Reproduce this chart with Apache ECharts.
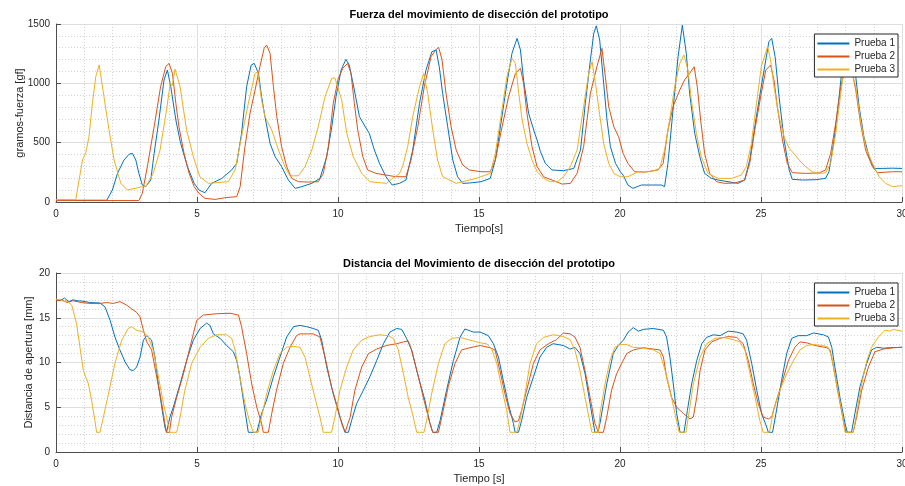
<!DOCTYPE html>
<html>
<head>
<meta charset="utf-8">
<script src="https://cdn.jsdelivr.net/npm/echarts@6/dist/echarts.min.js"></script>
<style>
  html, body { margin: 0; padding: 0; background: #ffffff; }
  #chart { width: 905px; height: 486px; }
</style>
</head>
<body>
<div id="chart"></div>
<script>
// Trial names and texts
const seriesNames = ['Prueba 1', 'Prueba 2', 'Prueba 3'];
const titleFuerza = 'Fuerza del movimiento de disección del prototipo';
const titleDistancia = 'Distancia del Movimiento de disección del prototipo';
const yNameFuerza = 'gramos-fuerza [gf]';
const yNameDistancia = 'Distancia de apertura [mm]';
const xNameFuerza = 'Tiempo[s]';
const xNameDistancia = 'Tiempo [s]';

// Force over time [s, gf]
const fuerzaP1 = [[0,15],[1.8,15],[2.0,101],[2.18,241],[2.41,354],[2.59,402],[2.71,410],[2.83,354],[2.94,241],[3.06,143],[3.18,129],[3.36,185],[3.48,410],[3.65,691],[3.83,1028],[3.95,1112],[4.07,972],[4.25,691],[4.42,494],[4.66,298],[4.9,157],[5.07,101],[5.28,78],[5.52,157],[5.88,199],[6.23,270],[6.41,326],[6.58,578],[6.76,972],[6.92,1154],[7.03,1168],[7.18,1084],[7.29,888],[7.41,719],[7.59,494],[7.77,382],[8.0,298],[8.24,185],[8.48,115],[8.71,129],[9.07,157],[9.36,199],[9.6,382],[9.78,635],[9.93,888],[10.11,1112],[10.28,1202],[10.4,1154],[10.58,944],[10.76,719],[10.93,649],[11.11,578],[11.29,438],[11.47,326],[11.7,213],[11.92,143],[12.18,157],[12.41,185],[12.65,438],[12.89,831],[13.12,1112],[13.33,1267],[13.48,1281],[13.59,1140],[13.71,916],[13.89,635],[14.07,354],[14.24,213],[14.42,157],[14.66,160],[15.07,171],[15.4,199],[15.58,354],[15.76,635],[15.99,1000],[16.17,1253],[16.35,1379],[16.47,1281],[16.58,1028],[16.76,747],[16.94,607],[17.06,522],[17.18,424],[17.35,326],[17.59,270],[18.0,264],[18.36,283],[18.6,438],[18.77,831],[18.95,1197],[19.07,1421],[19.16,1485],[19.28,1365],[19.42,1000],[19.54,691],[19.66,466],[19.84,326],[20.01,255],[20.11,227],[20.28,143],[20.46,115],[20.76,143],[21.11,143],[21.47,143],[21.58,129],[21.7,326],[21.88,775],[22.06,1225],[22.21,1490],[22.35,1253],[22.47,916],[22.65,578],[22.83,382],[23.0,241],[23.24,199],[23.48,185],[23.83,171],[24.19,157],[24.42,185],[24.6,354],[24.78,635],[24.95,888],[25.11,1112],[25.28,1351],[25.38,1379],[25.5,1225],[25.64,888],[25.82,522],[26.0,270],[26.11,191],[26.47,185],[26.94,188],[27.29,199],[27.41,255],[27.59,522],[27.77,888],[27.88,1140],[28.06,1380],[28.2,1300],[28.36,1056],[28.48,803],[28.65,550],[28.83,382],[29.01,283],[29.3,283],[29.66,285],[30,283]];
const fuerzaP2 = [[0,12],[2.94,12],[3.06,73],[3.24,298],[3.48,635],[3.71,972],[3.89,1140],[4.01,1168],[4.13,1084],[4.25,831],[4.36,635],[4.54,410],[4.72,241],[4.9,129],[5.07,73],[5.28,31],[5.64,22],[5.99,36],[6.41,45],[6.53,129],[6.7,466],[6.88,747],[7.06,944],[7.23,1140],[7.38,1295],[7.47,1323],[7.59,1253],[7.71,972],[7.83,719],[8.0,466],[8.18,298],[8.36,199],[8.6,171],[8.95,168],[9.3,171],[9.48,241],[9.66,466],[9.83,831],[10.01,1042],[10.17,1126],[10.34,1168],[10.46,1084],[10.58,831],[10.7,607],[10.88,382],[11.05,270],[11.35,241],[11.7,227],[12.06,213],[12.41,213],[12.59,354],[12.83,635],[13.06,972],[13.3,1225],[13.48,1285],[13.57,1303],[13.69,1197],[13.83,916],[14.01,635],[14.19,438],[14.42,312],[14.66,270],[15.07,255],[15.4,255],[15.58,354],[15.82,635],[16.05,888],[16.29,1084],[16.47,1126],[16.58,1000],[16.7,747],[16.88,466],[17.06,298],[17.29,213],[17.59,185],[17.95,151],[18.24,157],[18.48,241],[18.71,466],[18.95,916],[19.18,1140],[19.36,1295],[19.48,1056],[19.6,803],[19.78,635],[19.95,550],[20.11,410],[20.28,326],[20.52,255],[20.88,252],[21.35,270],[21.53,326],[21.7,607],[21.88,803],[22.12,944],[22.29,1028],[22.47,1084],[22.63,1140],[22.74,972],[22.86,691],[23.0,410],[23.18,241],[23.42,171],[23.71,157],[24.07,160],[24.42,185],[24.6,326],[24.78,607],[25.01,916],[25.17,1112],[25.34,1154],[25.46,1028],[25.58,803],[25.76,522],[25.93,326],[26.11,247],[26.58,241],[27.06,245],[27.29,270],[27.47,410],[27.65,663],[27.83,972],[28.1,1250],[28.36,944],[28.53,663],[28.71,438],[28.95,298],[29.13,247],[29.66,255],[30,255]];
const fuerzaP3 = [[0,20],[0.7,20],[0.82,185],[0.94,354],[1.05,410],[1.17,550],[1.29,831],[1.41,1056],[1.53,1155],[1.7,888],[1.88,607],[2.06,354],[2.3,157],[2.53,101],[3.0,125],[3.2,135],[3.45,242],[3.69,438],[3.92,775],[4.05,1000],[4.12,980],[4.22,1120],[4.4,972],[4.63,607],[4.87,382],[5.1,213],[5.4,157],[6.11,171],[6.35,270],[6.58,550],[6.82,831],[7.06,1084],[7.15,1098],[7.29,860],[7.41,719],[7.65,607],[7.89,438],[8.12,298],[8.3,219],[8.6,222],[8.83,298],[9.07,438],[9.3,635],[9.54,888],[9.78,1042],[9.89,1045],[10.13,860],[10.31,580],[10.54,382],[10.84,242],[11.13,171],[11.72,157],[11.94,199],[12.18,240],[12.29,298],[12.47,466],[12.65,719],[12.89,972],[13.04,1084],[13.18,916],[13.36,607],[13.53,354],[13.71,213],[13.95,185],[14.19,157],[14.42,171],[14.9,199],[15.4,241],[15.58,410],[15.76,691],[15.99,1056],[16.17,1211],[16.29,1168],[16.41,916],[16.53,691],[16.7,494],[16.88,354],[17.06,255],[17.29,199],[17.53,171],[17.77,171],[18.0,213],[18.24,298],[18.48,438],[18.71,803],[18.89,1084],[19.01,1182],[19.13,1000],[19.24,803],[19.42,494],[19.6,326],[19.78,241],[20.01,213],[20.28,213],[20.64,255],[21.11,255],[21.41,283],[21.58,438],[21.76,691],[21.94,972],[22.12,1168],[22.27,1239],[22.41,1112],[22.53,860],[22.71,578],[22.88,382],[23.12,241],[23.48,199],[23.95,199],[24.3,227],[24.48,298],[24.66,494],[24.84,831],[25.01,1140],[25.23,1309],[25.34,1197],[25.46,972],[25.64,719],[25.82,550],[26.0,452],[26.11,424],[26.35,354],[26.58,298],[26.82,255],[27.06,241],[27.29,245],[27.47,326],[27.65,578],[27.83,916],[27.94,1112],[28.1,1200],[28.36,972],[28.53,691],[28.71,466],[28.95,326],[29.19,213],[29.42,157],[29.66,129],[30,138]];

// Opening distance over time [s, mm]
const distP1 = [[0,17.0],[0.15,16.9],[0.3,17.2],[0.45,16.8],[0.6,17.0],[0.75,16.9],[0.95,16.85],[1.2,16.7],[1.56,16.65],[1.74,16.2],[1.92,14.7],[2.09,12.85],[2.27,11.36],[2.45,10.06],[2.62,9.2],[2.74,9.1],[2.86,9.5],[2.98,10.6],[3.1,12.5],[3.22,13.0],[3.39,12.5],[3.51,10.6],[3.63,7.6],[3.75,5.0],[3.86,2.8],[3.92,2.2],[3.98,2.2],[4.04,3.9],[4.16,5.0],[4.4,7.6],[4.63,10.2],[4.87,12.5],[5.11,13.8],[5.34,14.4],[5.46,14.15],[5.58,13.2],[5.82,12.7],[6.05,11.9],[6.29,11.2],[6.41,10.2],[6.52,8.4],[6.7,4.65],[6.82,2.2],[7.12,2.2],[7.29,4.3],[7.47,5.8],[7.71,8.4],[7.94,10.6],[8.18,12.85],[8.42,14.0],[8.65,14.15],[8.89,14.0],[9.12,13.8],[9.3,13.6],[9.42,12.5],[9.6,9.5],[9.83,6.5],[10.07,3.9],[10.25,2.2],[10.37,2.2],[10.48,3.5],[10.66,5.4],[10.9,6.9],[11.13,8.4],[11.37,10.2],[11.61,12.1],[11.84,13.4],[12.08,13.8],[12.26,13.7],[12.43,12.7],[12.61,11.4],[12.85,8.4],[13.08,5.8],[13.26,3.2],[13.36,2.2],[13.5,2.2],[13.62,3.5],[13.85,6.9],[14.09,10.2],[14.33,12.85],[14.5,13.75],[14.8,13.4],[15.04,13.4],[15.33,13.0],[15.51,12.1],[15.69,10.6],[15.86,8.0],[16.04,5.4],[16.22,3.2],[16.28,2.2],[16.4,2.2],[16.51,3.5],[16.69,6.1],[16.93,8.4],[17.16,10.6],[17.4,11.7],[17.63,12.1],[17.99,11.9],[18.23,11.5],[18.4,11.7],[18.58,11.0],[18.76,8.75],[18.94,5.4],[19.11,2.2],[19.22,2.2],[19.29,3.2],[19.53,7.6],[19.76,11.0],[19.94,11.9],[20.12,12.5],[20.29,13.4],[20.47,13.9],[20.65,13.5],[20.83,13.7],[21.18,13.8],[21.54,13.6],[21.65,12.85],[21.77,10.6],[21.89,7.6],[22.01,4.3],[22.13,2.2],[22.27,2.2],[22.39,4.65],[22.54,7.6],[22.72,10.2],[22.9,12.1],[23.07,12.8],[23.31,13.1],[23.55,13.0],[23.84,13.5],[24.14,13.4],[24.37,13.2],[24.49,12.5],[24.67,9.9],[24.85,6.9],[25.02,4.3],[25.2,2.8],[25.26,2.2],[25.41,2.2],[25.53,4.3],[25.73,8.0],[25.91,11.0],[26.09,12.7],[26.32,13.0],[26.62,13.0],[26.86,13.3],[27.21,13.1],[27.39,12.85],[27.51,11.7],[27.62,9.5],[27.8,6.1],[27.98,3.2],[28.06,2.2],[28.21,2.2],[28.33,4.3],[28.51,7.3],[28.75,9.9],[28.92,11.4],[29.1,11.7],[29.34,11.6],[29.57,11.65],[30,11.7]];
const distP2 = [[0,16.9],[0.2,17.0],[0.4,16.7],[0.6,16.9],[0.9,16.7],[1.2,16.6],[1.56,16.6],[1.8,16.7],[2.03,16.6],[2.27,16.8],[2.51,16.4],[2.68,16.0],[2.86,15.6],[2.98,15.1],[3.1,13.6],[3.22,12.3],[3.39,11.4],[3.57,8.4],[3.75,5.4],[3.86,3.2],[3.92,2.2],[4.02,2.2],[4.1,3.9],[4.28,6.1],[4.52,8.75],[4.75,11.7],[4.99,14.7],[5.22,15.3],[5.7,15.45],[6.17,15.5],[6.47,15.3],[6.58,14.0],[6.76,11.0],[6.94,7.6],[7.12,5.0],[7.29,3.2],[7.35,2.2],[7.53,2.2],[7.65,4.3],[7.82,6.9],[8.06,9.9],[8.3,11.7],[8.53,13.0],[8.65,13.2],[9.12,13.2],[9.36,12.85],[9.54,10.6],[9.77,7.3],[10.01,4.65],[10.13,3.2],[10.25,2.2],[10.31,2.2],[10.43,3.9],[10.6,6.9],[10.84,9.5],[11.08,11.0],[11.37,11.5],[11.72,11.9],[12.08,12.1],[12.32,12.3],[12.49,12.4],[12.61,11.4],[12.85,8.4],[13.08,5.4],[13.26,3.2],[13.36,2.2],[13.56,2.2],[13.68,3.9],[13.91,7.3],[14.15,9.9],[14.38,11.4],[14.68,11.65],[15.04,11.9],[15.39,11.65],[15.57,11.4],[15.74,9.1],[15.92,6.5],[16.1,4.3],[16.28,3.35],[16.4,3.5],[16.51,4.65],[16.69,6.9],[16.93,9.9],[17.16,11.4],[17.46,12.1],[17.75,12.55],[17.99,13.3],[18.23,13.2],[18.4,12.85],[18.58,11.7],[18.76,9.1],[18.94,6.1],[19.11,3.2],[19.23,2.2],[19.41,2.2],[19.53,3.9],[19.7,6.9],[19.88,8.75],[20.06,9.9],[20.24,11.0],[20.47,11.4],[20.83,11.65],[21.18,11.5],[21.42,11.4],[21.54,10.6],[21.65,8.4],[21.83,6.1],[22.01,5.0],[22.25,4.3],[22.48,3.7],[22.6,3.9],[22.72,6.1],[22.84,9.1],[23.01,11.4],[23.25,12.3],[23.55,12.7],[23.84,12.9],[24.14,12.8],[24.37,12.1],[24.55,10.2],[24.73,7.6],[24.9,5.4],[25.08,3.9],[25.26,3.7],[25.38,3.9],[25.55,5.8],[25.73,7.6],[25.97,10.2],[26.2,11.7],[26.38,12.3],[26.62,12.2],[26.91,11.9],[27.33,11.65],[27.45,11.4],[27.57,9.5],[27.74,6.5],[27.92,3.5],[28.01,2.2],[28.27,2.2],[28.39,3.9],[28.57,6.9],[28.81,9.5],[29.04,11.2],[29.34,11.5],[29.69,11.65],[30,11.7]];
const distP3 = [[0,17.1],[0.15,17.0],[0.3,16.8],[0.38,16.9],[0.56,16.4],[0.73,14.3],[0.85,11.7],[0.97,9.1],[1.15,7.6],[1.26,5.8],[1.38,3.5],[1.44,2.2],[1.56,2.2],[1.68,3.9],[1.86,6.5],[2.09,9.9],[2.33,12.5],[2.56,13.8],[2.68,14.0],[2.86,13.6],[3.1,13.4],[3.27,12.85],[3.45,11.4],[3.63,8.4],[3.81,5.4],[3.92,3.9],[4.04,2.2],[4.28,2.2],[4.4,3.9],[4.57,6.9],[4.81,9.9],[5.11,11.7],[5.4,12.7],[5.7,13.1],[6.05,13.1],[6.23,12.7],[6.35,11.4],[6.52,8.4],[6.7,5.4],[6.88,3.2],[7.0,2.2],[7.17,2.2],[7.29,3.9],[7.47,6.5],[7.71,9.1],[7.94,11.0],[8.18,11.7],[8.42,11.8],[8.65,11.7],[8.83,10.6],[9.0,8.4],[9.18,6.1],[9.36,3.9],[9.48,2.2],[9.77,2.2],[9.89,3.9],[10.07,6.9],[10.31,9.5],[10.54,11.4],[10.84,12.5],[11.13,12.9],[11.49,13.1],[11.78,13.0],[11.96,12.7],[12.14,11.4],[12.32,8.75],[12.49,6.1],[12.67,3.9],[12.79,2.2],[13.05,2.2],[13.14,3.5],[13.32,6.5],[13.56,9.9],[13.79,12.1],[14.03,12.7],[14.33,12.8],[14.68,12.5],[15.04,12.2],[15.27,12.1],[15.45,11.5],[15.63,9.9],[15.8,7.3],[15.98,4.65],[16.1,2.2],[16.34,2.2],[16.45,3.5],[16.63,6.5],[16.81,9.9],[17.04,12.1],[17.28,12.8],[17.64,13.1],[17.99,12.9],[18.23,12.55],[18.4,11.4],[18.58,9.1],[18.76,6.1],[18.94,3.2],[19.0,2.2],[19.23,2.2],[19.29,4.3],[19.47,7.6],[19.64,10.2],[19.82,11.7],[20.0,12.0],[20.24,12.0],[20.47,11.7],[20.83,11.6],[21.18,11.4],[21.42,11.0],[21.6,9.1],[21.77,6.9],[21.95,4.3],[22.1,2.2],[22.34,2.2],[22.46,4.65],[22.6,7.6],[22.84,10.6],[23.07,12.1],[23.37,12.7],[23.66,12.8],[24.02,12.55],[24.25,12.3],[24.43,11.4],[24.61,8.75],[24.79,6.1],[24.96,3.5],[25.08,2.2],[25.3,2.2],[25.44,4.65],[25.67,6.9],[25.91,8.75],[26.15,10.2],[26.38,11.4],[26.62,11.9],[26.86,12.0],[27.21,11.9],[27.39,11.7],[27.51,10.6],[27.68,7.6],[27.86,4.65],[27.98,2.2],[28.27,2.2],[28.39,4.3],[28.57,7.6],[28.75,10.2],[28.92,11.7],[29.16,12.85],[29.4,13.6],[29.57,13.5],[29.69,13.7],[30,13.5]];

const FONT = '"Liberation Sans", Arial, Helvetica, sans-serif';
const COLORS = ['#0072BD', '#D95319', '#EDB120'];
const AXIS_COLOR = '#4d4d4d';
const TEXT_COLOR = '#262626';

// plain tick numbers, no thousands separator
const plainNumber = v => String(v);

function axisCommon() {
  return {
    nameLocation: 'middle',
    nameMoveOverlap: false,
    nameTextStyle: { fontFamily: FONT, fontSize: 11, color: TEXT_COLOR },
    axisLine: { show: true, onZero: false, lineStyle: { color: AXIS_COLOR, width: 1 } },
    axisTick: { show: true, inside: true, length: 5, lineStyle: { color: AXIS_COLOR } },
    axisLabel: { fontFamily: FONT, fontSize: 10, color: TEXT_COLOR, formatter: plainNumber },
    splitLine: { show: true, lineStyle: { color: '#dedede', width: 1 } },
    minorTick: { show: false, splitNumber: 5 },
    minorSplitLine: { show: true, lineStyle: { color: '#d2d2d2', width: 1, type: [1, 2] } }
  };
}
function xAxisFor(gridIndex, name, nameGap) {
  const a = axisCommon();
  a.axisLabel.margin = 7;
  return Object.assign(a, { type: 'value', gridIndex, min: 0, max: 30, interval: 5, name, nameGap });
}
function yAxisFor(gridIndex, name, max, interval, nameGap) {
  const a = axisCommon();
  a.axisLabel.margin = 6;
  return Object.assign(a, { type: 'value', gridIndex, min: 0, max, interval, name, nameGap });
}
function legendFor(top) {
  return {
    data: seriesNames, orient: 'vertical', right: 7, top,
    icon: 'rect',
    backgroundColor: '#ffffff', borderColor: '#262626', borderWidth: 1,
    padding: [3, 3, 1, 3], itemGap: 0, itemWidth: 32, itemHeight: 2,
    textStyle: { fontFamily: FONT, fontSize: 10, color: TEXT_COLOR, lineHeight: 13 },
    z: 10
  };
}
function lineSeries(name, data, idx, axisIndex) {
  return {
    name, type: 'line', data, xAxisIndex: axisIndex, yAxisIndex: axisIndex,
    symbol: 'none', showSymbol: false, smooth: false, clip: true,
    lineStyle: { color: COLORS[idx], width: 1 },
    itemStyle: { color: COLORS[idx] },
    emphasis: { disabled: true }
  };
}

const chart = echarts.init(document.getElementById('chart'), null, { renderer: 'canvas' });
chart.setOption({
  animation: false,
  backgroundColor: '#ffffff',
  title: [
    { text: titleFuerza, left: 479, top: 9, padding: 0, textAlign: 'center',
      textStyle: { fontFamily: FONT, fontSize: 11, fontWeight: 'bold', color: '#000' } },
    { text: titleDistancia, left: 479, top: 258, padding: 0, textAlign: 'center',
      textStyle: { fontFamily: FONT, fontSize: 11, fontWeight: 'bold', color: '#000' } }
  ],
  legend: [legendFor(34), legendFor(283)],
  grid: [
    { left: 56, top: 24, width: 846, height: 178, containLabel: false, outerBoundsMode: 'none' },
    { left: 56, top: 273, width: 846, height: 179, containLabel: false, outerBoundsMode: 'none' }
  ],
  xAxis: [xAxisFor(0, xNameFuerza, 21), xAxisFor(1, xNameDistancia, 21)],
  yAxis: [
    yAxisFor(0, yNameFuerza, 1500, 500, 31),
    yAxisFor(1, yNameDistancia, 20, 5, 22)
  ],
  series: [
    lineSeries(seriesNames[0], fuerzaP1, 0, 0),
    lineSeries(seriesNames[1], fuerzaP2, 1, 0),
    lineSeries(seriesNames[2], fuerzaP3, 2, 0),
    lineSeries(seriesNames[0], distP1, 0, 1),
    lineSeries(seriesNames[1], distP2, 1, 1),
    lineSeries(seriesNames[2], distP3, 2, 1)
  ]
});
</script>
</body>
</html>
